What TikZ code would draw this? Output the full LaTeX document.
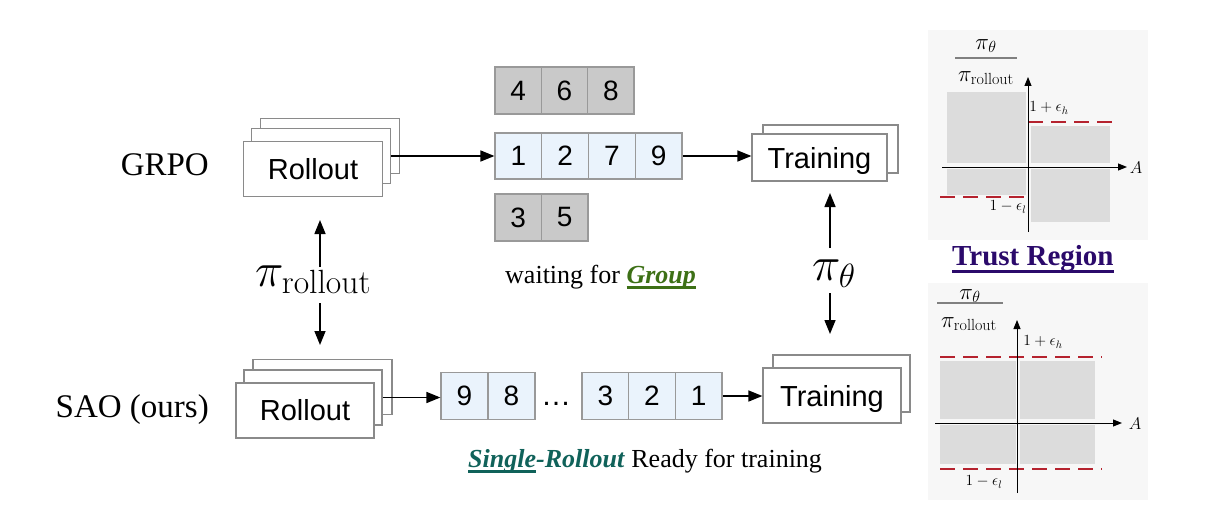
\RequirePackage{fix-cm}
\documentclass[tikz,border=0pt]{standalone}
\usepackage{fontspec}
\newfontfamily\arialf{Liberation Sans}
\newfontfamily\timesf{Liberation Serif}
\usetikzlibrary{arrows.meta}
\definecolor{boxc}{HTML}{8A8A8A}
\definecolor{cellbd}{HTML}{999999}
\definecolor{cellbf}{HTML}{EAF3FC}
\definecolor{cellgf}{HTML}{C9C9C9}
\definecolor{grpgreen}{HTML}{3D7016}
\definecolor{sroteal}{HTML}{10625A}
\definecolor{trpurple}{HTML}{2B0A6B}
\definecolor{regfill}{HTML}{DCDCDC}
\definecolor{plotbg}{HTML}{F7F7F7}
\definecolor{dashred}{HTML}{B5222E}
\newcommand{\myul}[3]{\leavevmode\vtop{\setbox0\hbox{#3}\dp0=0pt\box0\kern#1\hrule height #2}}
\tikzset{
  box/.style={draw=boxc, line width=1.2pt, fill=white, minimum width=139pt, minimum height=55pt, inner sep=0pt, font=\arialf\fontsize{29}{30}\selectfont},
  cellb/.style={draw=cellbd, fill=cellbf, line width=1.2pt, minimum width=46.75pt, minimum height=46pt, inner sep=0pt, font=\arialf\fontsize{28}{30}\selectfont},
  cellg/.style={cellb, fill=cellgf, minimum height=47pt, minimum width=46.4pt},
  arr/.style={line width=1.5pt, -{Triangle[length=14pt,width=11pt]}},
  axisarr/.style={line width=1pt, -{Triangle[length=9pt,width=7pt]}},
  redd/.style={draw=dashred, line width=2pt, dash pattern=on 15pt off 8pt},
  methodlbl/.style={font=\timesf\fontsize{33}{35}\selectfont},
  captext/.style={font=\timesf\fontsize{26}{28}\selectfont},
  plab/.style={inner sep=0pt, font=\fontsize{15.5}{16}\selectfont},
}
\begin{document}
\begin{tikzpicture}[x=1pt,y=-1pt]
\useasboundingbox (0,0) rectangle (1212,516);
\fill[white] (0,0) rectangle (1212,516);

% method labels
\node[methodlbl, anchor=base east, inner sep=0pt] (grpo) at (209,175) {GRPO};
\node[methodlbl, anchor=base east, inner sep=0pt] (sao) at (209,417) {SAO (ours)};

% GRPO rollout stack
\node[box] (r1c) at (330,146) {};
\node[box] (r1b) at (321,156) {};
\node[box] (r1) at (313,169) {Rollout};

% GRPO queues
\node[cellg] (g4) at (518.2,90.5) {4};
\node[cellg] (g6) at (564.5,90.5) {6};
\node[cellg] (g8) at (610.8,90.5) {8};
\node[cellb] (c1) at (518.4,156) {1};
\node[cellb] (c2) at (565.1,156) {2};
\node[cellb] (c7) at (611.9,156) {7};
\node[cellb] (c9) at (658.6,156) {9};
\node[cellg] (g3) at (518.25,217.5) {3};
\node[cellg] (g5) at (564.75,217.5) {5};

\node[captext, anchor=base west, inner sep=0pt] (wait) at (505,283) {waiting for \textcolor{grpgreen}{\myul{3pt}{2.5pt}{\textbf{\textit{Group}}}}};

% GRPO training stack
\node[box, minimum width=135pt, minimum height=48pt] (t1b) at (830.5,149) {};
\node[box, minimum width=135pt, minimum height=47pt, text depth=0pt] (t1) at (819.5,157.5) {Training};

\draw[arr] (r1b.east) -- (c1.west);
\draw[arr] (c9.east) -- (t1.west |- c9.east);

% policies
\node[anchor=base west, inner sep=0pt, font=\fontsize{48}{50}\selectfont] (pir) at (255,286) {$\pi_{\mathrm{rollout}}$};
\coordinate (pirU1) at (320,267);
\coordinate (pirU2) at (320,220);
\coordinate (pirD1) at (320,303);
\coordinate (pirD2) at (320,345);
\draw[arr] (pirU1) -- (pirU2);
\draw[arr] (pirD1) -- (pirD2);

\node[anchor=base west, inner sep=0pt, font=\fontsize{48}{50}\selectfont] (pit) at (812,280) {$\pi_{\theta}$};
\coordinate (pitU1) at (830,248);
\coordinate (pitU2) at (830,193);
\coordinate (pitD1) at (830,293);
\coordinate (pitD2) at (830,334);
\draw[arr] (pitU1) -- (pitU2);
\draw[arr] (pitD1) -- (pitD2);

% SAO rollout stack
\node[box, minimum width=139pt] (r2c) at (322.5,387) {};
\node[box, minimum width=138pt] (r2b) at (313,397.5) {};
\node[box, minimum width=138pt] (r2) at (305,410.5) {Rollout};

% SAO queue
\node[cellb, minimum width=47pt, minimum height=47pt] (s9) at (464.5,396) {9};
\node[cellb, minimum width=47pt, minimum height=47pt] (s8) at (511.5,396) {8};
\node[anchor=base, inner sep=0pt, font=\arialf\fontsize{30}{30}\selectfont] (dots) at (556,405) {…};
\node[cellb, minimum width=46.7pt, minimum height=47pt] (s3) at (605.3,396) {3};
\node[cellb, minimum width=46.7pt, minimum height=47pt] (s2) at (652,396) {2};
\node[cellb, minimum width=46.7pt, minimum height=47pt] (s1) at (698.7,396) {1};

% SAO training stack
\node[box, minimum width=137pt, minimum height=57pt] (t2b) at (841.5,383.5) {};
\node[box, minimum width=138pt, minimum height=55pt, text depth=0pt] (t2) at (832,395.5) {Training};

\draw[arr] (r2b.east) -- (s9.west |- r2b.east);
\draw[arr] (s1.east) -- (t2.west |- s1.east);

\node[captext, anchor=base west, inner sep=0pt] (ready) at (468,467) {\textcolor{sroteal}{\textbf{\textit{\myul{3pt}{2.5pt}{Single}-Rollout}}} Ready for training};

% ---------- Trust region plot (top) ----------
\fill[plotbg] (928,30) rectangle (1148,240);
\fill[regfill] (947,92) rectangle (1026,163);
\fill[regfill] (947,169) rectangle (1026,195);
\fill[regfill] (1031,126) rectangle (1110,163);
\fill[regfill] (1031,169) rectangle (1110,222);
\draw[redd] (1028,122) -- (1112,122);
\draw[redd] (940,197) -- (1030,197);
\draw[axisarr] (942,167) -- (1127,167);
\draw[axisarr] (1028,232) -- (1028,77);
\node[inner sep=0pt, font=\fontsize{23}{24}\selectfont] (tpt) at (986,46) {$\pi_\theta$};
\draw[gray, line width=1.2pt] (955,58) -- (1017,58);
\node[inner sep=0pt, font=\fontsize{23}{24}\selectfont] (tpr) at (986,78) {$\pi_{\mathrm{rollout}}$};
\node[plab] (th) at (1049,108) {$1+\epsilon_h$};
\node[plab] (tl) at (1008,207) {$1-\epsilon_l$};
\node[plab, font=\fontsize{17}{18}\selectfont] (tA) at (1136,168) {$A$};

\node[anchor=base west, inner sep=0pt, text=trpurple, font=\timesf\bfseries\fontsize{29}{30}\selectfont] (trust) at (952,265) {\myul{5pt}{3pt}{Trust Region}};

% ---------- Trust region plot (bottom) ----------
\fill[plotbg] (928,283) rectangle (1148,500);
\fill[regfill] (940,361) rectangle (1016,419);
\fill[regfill] (1020,361) rectangle (1095,419);
\fill[regfill] (940,425) rectangle (1016,464);
\fill[regfill] (1020,425) rectangle (1095,464);
\draw[redd] (940,357) -- (1102,357);
\draw[redd] (940,469) -- (1102,469);
\draw[axisarr] (935,423) -- (1122,423);
\draw[axisarr] (1017,493) -- (1017,320);
\node[inner sep=0pt, font=\fontsize{23}{24}\selectfont] (bpt) at (970,296) {$\pi_\theta$};
\draw[gray, line width=1.2pt] (937,303) -- (1003,303);
\node[inner sep=0pt, font=\fontsize{23}{24}\selectfont] (bpr) at (969,324) {$\pi_{\mathrm{rollout}}$};
\node[plab] (bh) at (1043,342) {$1+\epsilon_h$};
\node[plab] (bl) at (984,482) {$1-\epsilon_l$};
\node[plab, font=\fontsize{17}{18}\selectfont] (bA) at (1135,424) {$A$};
\end{tikzpicture}
\end{document}
